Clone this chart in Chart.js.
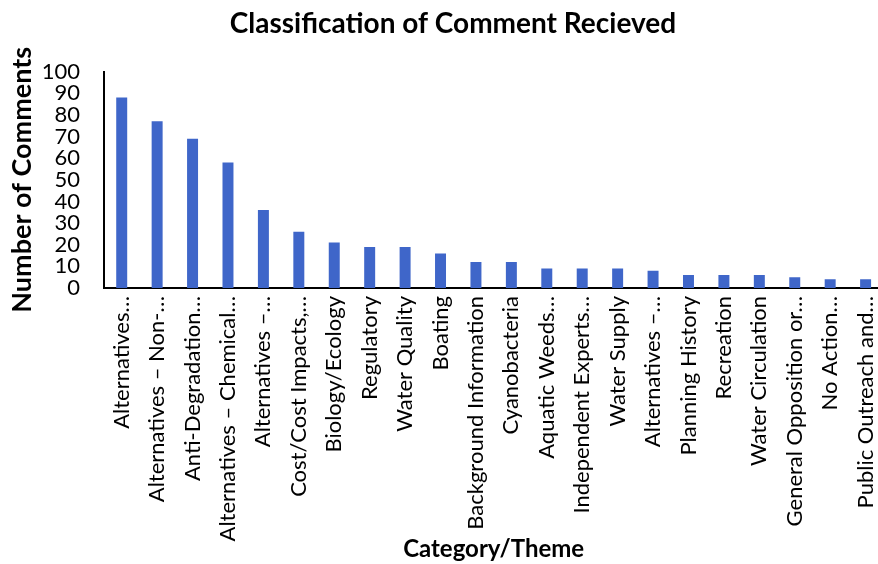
<!DOCTYPE html>
<html>
<head>
<meta charset="utf-8">
<script src="https://cdn.jsdelivr.net/npm/chart.js@4"></script>
<style>
  html, body { margin: 0; padding: 0; background: #fff; overflow: hidden; }
  #wrap { width: 900px; height: 564px; }
</style>
</head>
<body>
<div id="wrap"><canvas id="myChart" width="900" height="564"></canvas></div>
<script>
// categories (truncated as in the source chart)
const categories = [
    "Alternatives…", "Alternatives – Non-…", "Anti-Degradation…", "Alternatives – Chemical…",
    "Alternatives –…", "Cost/Cost Impacts,…", "Biology/Ecology", "Regulatory", "Water Quality",
    "Boating", "Background Information", "Cyanobacteria", "Aquatic Weeds…", "Independent Experts…",
    "Water Supply", "Alternatives –…", "Planning History", "Recreation", "Water Circulation",
    "General Opposition or…", "No Action…", "Public Outreach and…"
];
const commentCounts = [88, 77, 69, 58, 36, 26, 21, 19, 19, 16, 12, 12, 9, 9, 9, 8, 6, 6, 6, 5, 4, 4];
const yTicks = [0, 10, 20, 30, 40, 50, 60, 70, 80, 90, 100];

const fontFamily = 'Lato';

const ctx = document.getElementById('myChart').getContext('2d');
const myChart = new Chart(ctx, {
    type: 'bar',
    data: {
        labels: categories,
        datasets: [{
            label: 'Number of Comments',
            data: commentCounts,
            backgroundColor: '#3F66C9',
            barPercentage: 0.31,
            categoryPercentage: 1
        }]
    },
    options: {
        responsive: false,
        animation: false,
        layout: { padding: { left: 6, top: 0, right: 0, bottom: 0 } },
        plugins: {
            legend: { display: false },
            tooltip: { enabled: false },
            title: {
                display: true,
                text: 'Classification of Comment Recieved',
                color: '#000',
                font: { family: fontFamily, size: 28, weight: 'bold' },
                padding: { top: 7, bottom: 31 }
            }
        },
        scales: {
            x: {
                grid: { display: false, drawTicks: false },
                border: { display: true, color: '#000', width: 2 },
                ticks: {
                    color: '#000',
                    font: { family: fontFamily, size: 22 },
                    minRotation: 90,
                    maxRotation: 90,
                    autoSkip: false,
                    padding: 8
                },
                title: {
                    display: true,
                    text: 'Category/Theme',
                    color: '#000',
                    font: { family: fontFamily, size: 24, weight: 'bold' },
                    padding: { top: 0, bottom: 0 }
                },
                afterFit: (scale) => { scale.height = 276; }
            },
            y: {
                min: 0,
                max: 100,
                afterBuildTicks: (scale) => { scale.ticks = yTicks.map(v => ({ value: v })); },
                grid: { display: false, drawTicks: false },
                border: { display: true, color: '#000', width: 2 },
                ticks: {
                    color: '#000',
                    font: { family: fontFamily, size: 22, lineHeight: 1 },
                    autoSkip: false,
                    padding: 24
                },
                title: {
                    display: true,
                    text: 'Number of Comments',
                    color: '#000',
                    font: { family: fontFamily, size: 27, weight: 'bold' },
                    padding: { top: 0, bottom: 3 }
                },
                afterFit: (scale) => { scale.width = 98; }
            }
        }
    }
});
</script>
</body>
</html>
